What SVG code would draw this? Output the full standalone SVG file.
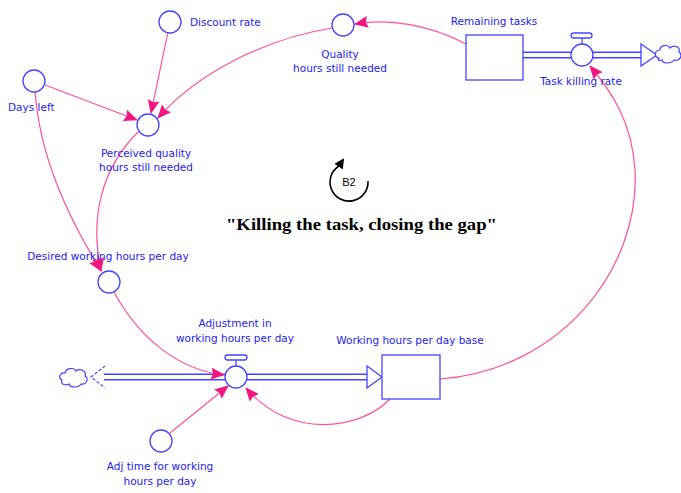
<svg xmlns="http://www.w3.org/2000/svg" width="681" height="493" viewBox="0 0 681 493">
  <defs>
    <marker id="arr" markerWidth="14" markerHeight="12" refX="13" refY="6" orient="auto" markerUnits="userSpaceOnUse">
      <path d="M0,0 L14,6 L0,12 L2,6 Z" fill="#f2177f"/>
    </marker>
    <marker id="loopArr" markerWidth="10" markerHeight="10" refX="8" refY="5" orient="auto" markerUnits="userSpaceOnUse">
      <path d="M0,0 L10,5 L0,10 Z" fill="#000"/>
    </marker>
  </defs>
  <style>
    .aux { fill: #fff; stroke: #4444ff; stroke-width: 1.3; }
    .stock { fill: #fff; stroke: #4444ff; stroke-width: 1.3; }
    .lbl { font-family: "DejaVu Sans", Verdana, sans-serif; font-size: 10.5px; fill: #2222ee; }
    .mid { text-anchor: middle; }
    .link { fill: none; stroke: #ff4f9a; stroke-width: 1.2; marker-end: url(#arr); }
    .pipeOut { fill: none; stroke: #4444ff; stroke-width: 7; }
    .pipeIn { fill: none; stroke: #fff; stroke-width: 4; }
    .head { fill: #fff; stroke: #4444ff; stroke-width: 1.3; }
    .cloud { fill: #fff; stroke: #4444ff; stroke-width: 1.2; }
  </style>

  <!-- flow pipes -->
  <g id="flows">
    <path class="pipeOut" d="M523,55 H642"/>
    <path class="pipeIn" d="M522,55 H643"/>
    <path class="head" d="M641,44 L657,55 L641,66 Z"/>
    <path class="pipeOut" d="M104,377 H368"/>
    <path class="pipeIn" d="M103,377 H369"/>
    <path class="head" d="M367,366 L382,377 L367,388 Z"/>
    <path d="M105,366 L91,377 L105,388" fill="none" stroke="#4444ff" stroke-width="1.2" stroke-dasharray="3,2"/>
    <!-- clouds -->
    <path class="cloud" d="M659,58 C654,58 654,50 660,50 C660,45 668,44 670,48 C674,44 681,47 679,52 C683,55 680,62 674,60 C671,64 663,64 662,60 C659,61 657,60 659,58 Z"/>
    <path class="cloud" d="M62,380 C58,378 60,372 65,373 C66,368 74,367 76,371 C80,368 87,371 85,376 C89,378 87,385 81,384 C79,388 70,388 69,384 C65,386 60,384 62,380 Z"/>
  </g>

  <!-- information links -->
  <g id="connectors">
    <path class="link" d="M466,44 C430,25 390,18 355,24"/>
    <path class="link" d="M332,28 C270,38 200,70 158,118"/>
    <path class="link" d="M168,32 L151,113"/>
    <path class="link" d="M45,85 L137,120"/>
    <path class="link" d="M35,91 C40,160 70,220 101,271"/>
    <path class="link" d="M138,132 C100,170 90,220 101,271"/>
    <path class="link" d="M114,292 C140,340 180,370 224,375"/>
    <path class="link" d="M170,433 L228,386"/>
    <path class="link" d="M390,399 C360,430 290,440 246,388"/>
    <path class="link" d="M440,379 C560,370 640,270 635,170 C632,120 610,90 590,66"/>
  </g>

  <g id="remaining-tasks">
    <rect class="stock" x="466" y="35" width="57" height="45"/>
    <text class="lbl mid" x="494" y="25">Remaining tasks</text>
  </g>

  <g id="task-killing-rate">
    <rect x="571" y="33" width="21" height="5" rx="2.5" class="aux"/>
    <line x1="582" y1="38" x2="582" y2="44" stroke="#4444ff" stroke-width="1.3"/>
    <circle class="aux" cx="582" cy="55" r="11"/>
    <text class="lbl mid" x="581" y="85">Task killing rate</text>
  </g>

  <g id="quality-hours">
    <circle class="aux" cx="343" cy="25" r="11"/>
    <text class="lbl mid" x="340" y="58">Quality</text>
    <text class="lbl mid" x="340" y="72">hours still needed</text>
  </g>

  <g id="discount-rate">
    <circle class="aux" cx="170" cy="22" r="11"/>
    <text class="lbl" x="190" y="26">Discount rate</text>
  </g>

  <g id="days-left">
    <circle class="aux" cx="34" cy="81" r="11"/>
    <text class="lbl" x="8" y="111">Days left</text>
  </g>

  <g id="perceived-quality">
    <circle class="aux" cx="148" cy="125" r="11"/>
    <text class="lbl mid" x="146" y="157">Perceived quality</text>
    <text class="lbl mid" x="146" y="171">hours still needed</text>
  </g>

  <g id="desired-hours">
    <circle class="aux" cx="109" cy="282" r="11"/>
    <text class="lbl mid" x="108" y="260">Desired working hours per day</text>
  </g>

  <g id="adjustment">
    <rect x="225" y="355" width="22" height="5" rx="2.5" class="aux"/>
    <line x1="236" y1="360" x2="236" y2="366" stroke="#4444ff" stroke-width="1.3"/>
    <circle class="aux" cx="236" cy="377" r="11"/>
    <text class="lbl mid" x="235" y="327">Adjustment in</text>
    <text class="lbl mid" x="235" y="342">working hours per day</text>
  </g>

  <g id="adj-time">
    <circle class="aux" cx="161" cy="441" r="11"/>
    <text class="lbl mid" x="160" y="470">Adj time for working</text>
    <text class="lbl mid" x="160" y="485">hours per day</text>
  </g>

  <g id="working-hours-base">
    <rect class="stock" x="382" y="355" width="58" height="44"/>
    <text class="lbl mid" x="410" y="344">Working hours per day base</text>
  </g>

  <g id="loop-b2">
    <path d="M368,181 A19,19 0 1 1 339,166 L343,160" fill="none" stroke="#000" stroke-width="1.6" marker-end="url(#loopArr)"/>
    <text x="349" y="186" font-family="'Liberation Sans', Arial, sans-serif" font-size="11" text-anchor="middle" fill="#000">B2</text>
    <text x="226" y="230" font-family="'Liberation Serif', 'Times New Roman', serif" font-size="17.5" font-weight="bold" fill="#000" textLength="271" lengthAdjust="spacingAndGlyphs">"Killing the task, closing the gap"</text>
  </g>
</svg>
